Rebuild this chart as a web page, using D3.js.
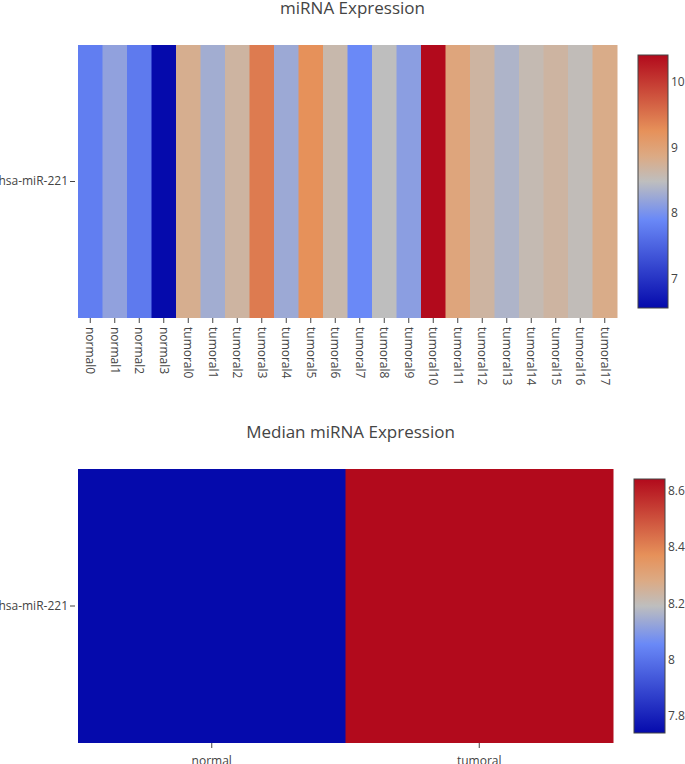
<!DOCTYPE html>
<html>
<head>
<meta charset="utf-8">
<script src="https://cdn.jsdelivr.net/npm/d3@7"></script>
<style>
  html, body { margin: 0; padding: 0; background: #fff; }
  svg { display: block; font-family: "Open Sans", "Noto Sans", sans-serif; }
</style>
</head>
<body>
<svg id="chart" width="685" height="764"></svg>
<script>
// ---- data ----
const gene = ["hsa-miR-221"];
const samples = ["normal0","normal1","normal2","normal3",
  "tumoral0","tumoral1","tumoral2","tumoral3","tumoral4","tumoral5","tumoral6","tumoral7","tumoral8",
  "tumoral9","tumoral10","tumoral11","tumoral12","tumoral13","tumoral14","tumoral15","tumoral16","tumoral17"];
const expression = [7.79, 8.17, 7.75, 6.56,
  8.79, 8.29, 8.67, 9.44, 8.25, 9.25, 8.60, 7.90, 8.48,
  8.13, 10.40, 8.94, 8.67, 8.37, 8.56, 8.67, 8.52, 8.83];
const groups = ["normal", "tumoral"];
const medianExpression = [7.74, 8.64];
const ticksTop = [7, 8, 9, 10];
const ticksBottom = [7.8, 8, 8.2, 8.4, 8.6];
const titles = ["miRNA Expression", "Median miRNA Expression"];

// plotly RdBu stops (low = blue, high = red)
const stops = [[0, "rgb(5,10,172)"], [0.35, "rgb(106,137,247)"], [0.5, "rgb(190,190,190)"],
  [0.6, "rgb(220,170,132)"], [0.7, "rgb(230,145,90)"], [1, "rgb(178,10,28)"]];

const svg = d3.select("#chart");
const defs = svg.append("defs");
const textColor = "#444";

function drawHeatmap(opts) {
  const { cats, vals, title, ticks, plot, cbar, titleY, rotate, id } = opts;
  const zmin = d3.min(vals), zmax = d3.max(vals);
  const t = d3.scaleLinear().domain([zmin, zmax]).range([0, 1]);
  const color = d3.scaleLinear().domain(stops.map(s => s[0])).range(stops.map(s => s[1]))
    .interpolate(d3.interpolateRgb);

  const x = d3.scaleBand().domain(cats).range([plot.x0, plot.x1]).padding(0);
  const y = d3.scaleBand().domain(gene).range([plot.y0, plot.y1]).padding(0);

  svg.append("text").attr("x", (plot.x0 + plot.x1) / 2 + 5).attr("y", titleY)
    .attr("text-anchor", "middle").attr("font-size", 17).attr("fill", textColor).text(title);

  const g = svg.append("g");
  g.selectAll("rect.cell").data(cats).join("rect").attr("class", "cell")
    .attr("x", d => x(d)).attr("y", y(gene[0]))
    .attr("width", x.bandwidth() + 0.5).attr("height", y.bandwidth())
    .attr("fill", (d, i) => color(t(vals[i])));

  // x axis
  const xa = svg.append("g").attr("transform", `translate(0,${plot.y1})`)
    .call(d3.axisBottom(x).tickSize(5).tickPadding(4));
  xa.select(".domain").remove();
  xa.selectAll(".tick line").attr("stroke", textColor);
  xa.selectAll(".tick text").attr("fill", textColor).attr("font-size", 12)
    .attr("font-family", "Open Sans");
  if (rotate) {
    xa.selectAll(".tick text").attr("transform", "rotate(90)")
      .attr("text-anchor", "start").attr("x", 9).attr("y", 0).attr("dy", "0.35em");
  } else {
    xa.selectAll(".tick text").attr("dy", "1.05em");
  }

  // y axis
  const ya = svg.append("g").attr("transform", `translate(${plot.x0 - 3},0)`)
    .call(d3.axisLeft(y).tickSize(5).tickPadding(2));
  ya.select(".domain").remove();
  ya.selectAll(".tick line").attr("stroke", textColor);
  ya.selectAll(".tick text").attr("fill", textColor).attr("font-size", 12)
    .attr("font-family", "Open Sans");

  // colorbar
  const grad = defs.append("linearGradient").attr("id", id)
    .attr("x1", 0).attr("y1", 1).attr("x2", 0).attr("y2", 0);
  stops.forEach(s => grad.append("stop").attr("offset", s[0]).attr("stop-color", s[1]));
  svg.append("rect").attr("x", cbar.x0).attr("y", cbar.y0)
    .attr("width", cbar.x1 - cbar.x0).attr("height", cbar.y1 - cbar.y0)
    .attr("fill", `url(#${id})`).attr("stroke", textColor).attr("stroke-width", 1);
  const cy = d3.scaleLinear().domain([zmin, zmax]).range([cbar.y1, cbar.y0]);
  const ca = svg.append("g").attr("transform", `translate(${cbar.x1},0)`)
    .call(d3.axisRight(cy).tickValues(ticks).tickSize(0).tickPadding(3)
      .tickFormat(d => d3.format("~g")(d)));
  ca.select(".domain").remove();
  ca.selectAll(".tick text").attr("fill", textColor).attr("font-size", 12)
    .attr("font-family", "Open Sans");
}

drawHeatmap({ cats: samples, vals: expression, title: titles[0], ticks: ticksTop,
  plot: { x0: 78, x1: 617, y0: 45, y1: 318 },
  cbar: { x0: 638, x1: 668, y0: 55, y1: 308 },
  titleY: 14, rotate: true, id: "gradTop" });

drawHeatmap({ cats: groups, vals: medianExpression, title: titles[1], ticks: ticksBottom,
  plot: { x0: 78, x1: 613, y0: 469, y1: 743 },
  cbar: { x0: 634, x1: 665, y0: 479, y1: 733 },
  titleY: 438, rotate: false, id: "gradBottom" });
</script>
</body>
</html>
